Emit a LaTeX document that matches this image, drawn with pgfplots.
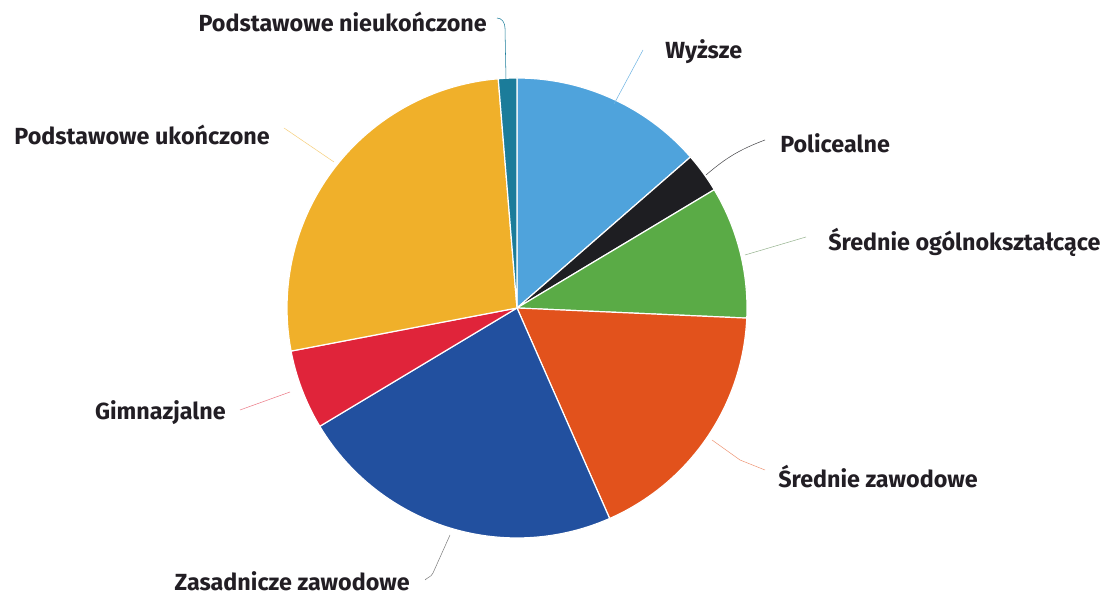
\documentclass[border=0pt]{standalone}
\usepackage{pgfplots}
\pgfplotsset{compat=1.18}
\usepackage{fontspec}
\setmainfont{Fira Sans}

\definecolor{cNieuk}{HTML}{1B7C9A}
\definecolor{cWyzsze}{HTML}{4FA3DC}
\definecolor{cPolic}{HTML}{1E1E22}
\definecolor{cOgoln}{HTML}{5AAB46}
\definecolor{cSrZaw}{HTML}{E2521C}
\definecolor{cZasad}{HTML}{22509F}
\definecolor{cGimn}{HTML}{E0243A}
\definecolor{cUkon}{HTML}{F0B02A}
\definecolor{txt}{HTML}{221E24}

% centre and radius of the pie, in picture pixels
\def\cx{517}\def\cy{290}\def\R{230}
\gdef\cum{0}
% #1 share in per cent, #2 colour
\newcommand\slice[2]{%
  \pgfmathsetmacro\angA{90-3.6*\cum}%
  \pgfmathsetmacro\angB{90-3.6*(\cum+#1)}%
  \addplot[fill=#2, draw=white, line width=0.9pt, line join=round,
    domain=\angB:\angA, samples=60, variable=\t]
    ({\cx+\R*cos(t)},{\cy+\R*sin(t)}) -- (axis cs:\cx,\cy) -- cycle;
  \pgfmathsetmacro\tmp{\cum+#1}\xdef\cum{\tmp}%
}

\begin{document}
\begin{tikzpicture}[lbl/.style={font=\fontsize{17.5}{19}\selectfont\bfseries, text=txt, inner sep=0pt}]
\begin{axis}[
    scale only axis, width=831pt, height=448.5pt,
    xmin=0, xmax=1108, ymin=0, ymax=598,
    hide axis, clip=false,
  ]
\path (axis cs:0,0) rectangle (axis cs:1108,598);
% clockwise from 12 o'clock
\slice{13.6}{cWyzsze}
\slice{2.8}{cPolic}
\slice{9.3}{cOgoln}
\slice{17.7}{cSrZaw}
\slice{23.0}{cZasad}
\slice{5.6}{cGimn}
\slice{26.7}{cUkon}
\slice{1.3}{cNieuk}

% leader lines
\draw[cNieuk, thin] (axis cs:506,518) -- (axis cs:505,570) to[out=90,in=0] (axis cs:497,580);
\draw[cWyzsze!80, thin] (axis cs:614,494) -- (axis cs:643,548);
\draw[cPolic!80, thin] (axis cs:706,423) to[bend left=10] (axis cs:765,458);
\draw[cOgoln!50!gray!70, thin] (axis cs:745,343) -- (axis cs:806,361);
\draw[cSrZaw!60, thin] (axis cs:712,158) -- (axis cs:740,138) -- (axis cs:765,128);
\draw[gray, thin] (axis cs:450,63) -- (axis cs:433,25) to[out=-100,in=180] (axis cs:426,18);
\draw[cGimn!60, thin] (axis cs:290,206) -- (axis cs:240,188);
\draw[cUkon!60, thin] (axis cs:284,470) -- (axis cs:334,436);

% labels
\node[lbl, anchor=east] at (axis cs:487,576) {Podstawowe nieukończone};
\node[lbl, anchor=west] at (axis cs:665,546) {Wyższe};
\node[lbl, anchor=west] at (axis cs:780,455) {Policealne};
\node[lbl, anchor=west] at (axis cs:828,356) {Średnie ogólnokształcące};
\node[lbl, anchor=west] at (axis cs:778,121) {Średnie zawodowe};
\node[lbl, anchor=east] at (axis cs:410,17) {Zasadnicze zawodowe};
\node[lbl, anchor=east] at (axis cs:226,185) {Gimnazjalne};
\node[lbl, anchor=east] at (axis cs:270,463) {Podstawowe ukończone};
\end{axis}
\end{tikzpicture}
\end{document}
